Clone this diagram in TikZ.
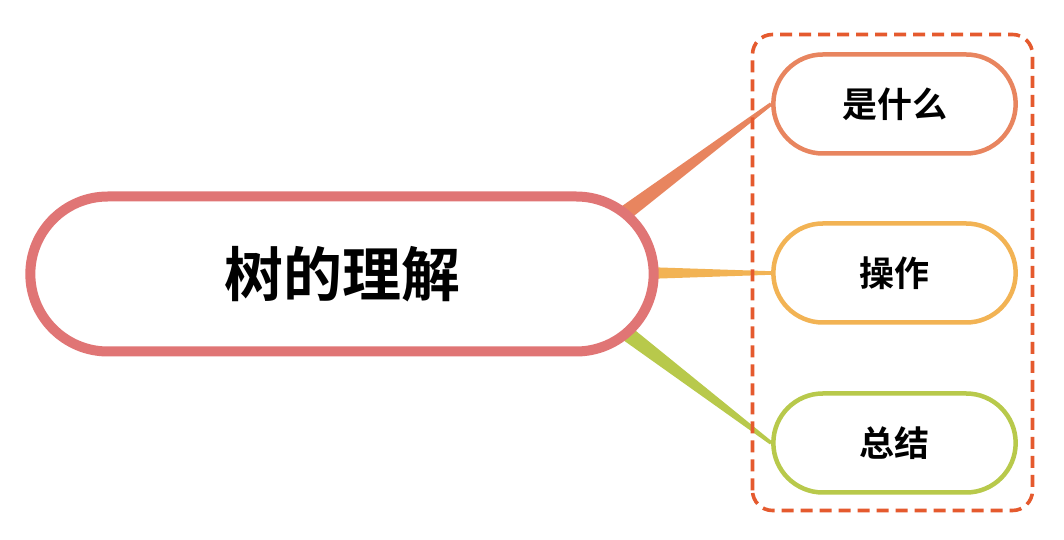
\documentclass[tikz,border=0pt]{standalone}
\usepackage{fontspec}
\setmainfont{Noto Sans CJK SC}[BoldFont={Noto Sans CJK SC Bold}]
\usetikzlibrary{shapes.misc,calc,backgrounds}
\definecolor{rootc}{HTML}{E07575}
\definecolor{whatc}{HTML}{E8855F}
\definecolor{opc}{HTML}{F2B354}
\definecolor{sumc}{HTML}{B8C94B}
\definecolor{boxc}{HTML}{E55A2E}
\newcommand\branch[4]{% start, child, colour, width at start
  \fill[#3] ($(#1)!#4!90:(#2.west)$) -- ($(#2.west)!1.8pt!-90:(#1)$)
    -- ($(#2.west)!1.8pt!90:(#1)$) -- ($(#1)!#4!-90:(#2.west)$) -- cycle;}

\begin{document}
\begin{tikzpicture}[x=1pt, y=1pt,
  topic/.style={draw, rounded rectangle, fill=white, line width=4.5pt,
    minimum width=249pt, minimum height=99pt, font=\bfseries\fontsize{35}{35}\selectfont}]
\useasboundingbox (0,0) rectangle (1064,540);
\node (root)[draw=rootc, rounded rectangle, fill=white, line width=10pt,
  minimum width=630pt, minimum height=155pt,
  font=\bfseries\fontsize{59}{59}\selectfont] at (342,266) {树的理解};
\node (what)[topic, draw=whatc] at (894.5,436) {是什么};
\node (op)  [topic, draw=opc]   at (894.5,267) {操作};
\node (sum) [topic, draw=sumc]  at (894.5,97)  {总结};
\draw[boxc, line width=3.6pt, dash pattern=on 12pt off 7pt, rounded corners=20pt]
  (752.5,29.5) rectangle (1032.5,505.5);
\begin{scope}[on background layer]
\fill[white] (0,0) rectangle (1064,540);
\coordinate (s1) at (604,311);
\coordinate (s2) at (630,267);
\coordinate (s3) at (604,224);
\branch{s1}{what}{whatc}{8.5pt}
\branch{s2}{op}{opc}{6.5pt}
\branch{s3}{sum}{sumc}{8.5pt}
\end{scope}
\end{tikzpicture}
\end{document}
